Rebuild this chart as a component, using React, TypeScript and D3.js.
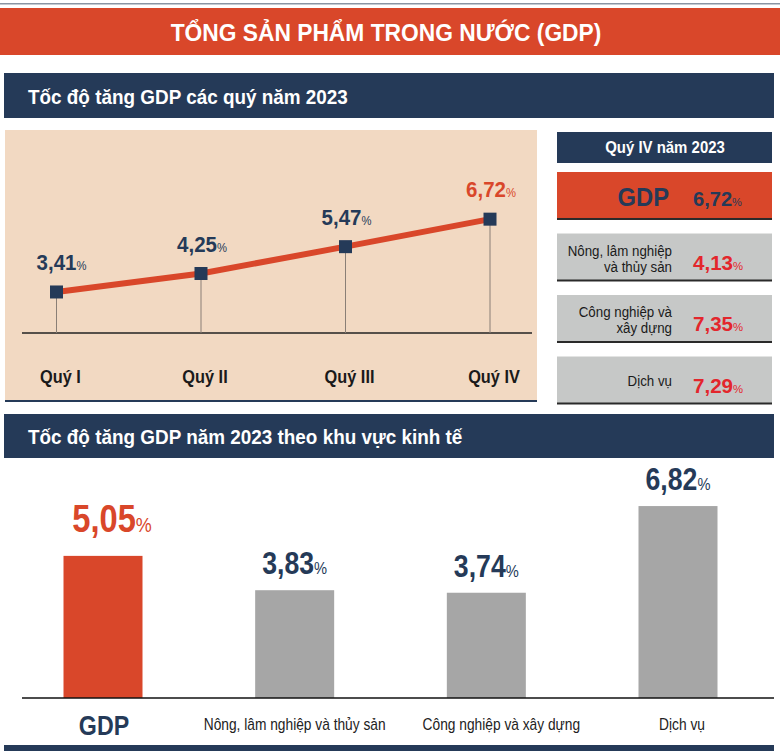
import React from "react";
import * as d3 from "d3";

const quarters = ["Quý I", "Quý II", "Quý III", "Quý IV"];
const quarterGrowth = [3.41, 4.25, 5.47, 6.72];

const q4Labels = [["GDP"], ["Nông, lâm nghiệp", "và thủy sản"], ["Công nghiệp và", "xây dựng"], ["Dịch vụ"]];
const q4Values = [6.72, 4.13, 7.35, 7.29];

const sectors = ["GDP", "Nông, lâm nghiệp và thủy sản", "Công nghiệp và xây dựng", "Dịch vụ"];
const yearGrowth = [5.05, 3.83, 3.74, 6.82];

const TITLE = "TỔNG SẢN PHẨM TRONG NƯỚC (GDP)";
const HEAD1 = "Tốc độ tăng GDP các quý năm 2023";
const HEAD2 = "Tốc độ tăng GDP năm 2023 theo khu vực kinh tế";
const Q4HEAD = "Quý IV năm 2023";

const FONT = "'Liberation Sans', Arial, sans-serif";
const RED = "#d9472a";
const NAVY = "#253a58";
const BEIGE = "#f2d9c2";
const BRIGHTRED = "#e3262c";
const GRAYBOX = "#c6c8c7";
const GRAYBAR = "#a6a6a6";
const SX = 0.86;

const fmt = (v: number) => d3.format(".2f")(v).replace(".", ",");

function T({ x, y, size, anchor = "start", bold = false, fill = "#1a1a1a", sx = SX, children }: any) {
  return (
    <g transform={`translate(${x},${y}) scale(${sx},1)`}>
      <text x={0} y={0} textAnchor={anchor} fontFamily={FONT} fontWeight={bold ? "bold" : "normal"} fill={fill} fontSize={size}>
        {children}
      </text>
    </g>
  );
}

function Pct({ v, x, y, size, color, anchor = "middle", sx = SX }: any) {
  return (
    <T x={x} y={y} size={size} anchor={anchor} bold fill={color} sx={sx}>
      {fmt(v)}
      <tspan fontSize={size * 0.55} fontWeight="normal">%</tspan>
    </T>
  );
}

export default function App() {
  // Line chart scales
  const xq = d3.scalePoint<string>().domain(quarters).range([56.5, 490]);
  const yq = d3.scaleLinear().domain([1.5, 7.5]).range([334, 202]);
  const line = d3
    .line<number>()
    .x((_, i) => xq(quarters[i])!)
    .y((d) => yq(d));

  // Right panel
  const yb = d3.scaleBand<string>().domain(q4Labels.map((l) => l.join(" "))).range([172, 403.5]).paddingInner(0.236).paddingOuter(0);

  // Bar chart
  const xb = d3.scalePoint<string>().domain(sectors).range([103, 678]);
  const yy = d3.scaleLinear().domain([0, 7]).range([698, 501]);
  const bw = 79;

  return (
    <svg width={780} height={751} style={{ position: "absolute", left: 0, top: 0 }} fontFamily={FONT}>
      <rect x={0} y={0} width={780} height={751} fill="#ffffff" />
      <rect x={0} y={3} width={780} height={1.5} fill="#8a95a3" />
      {/* Title banner */}
      <rect x={0} y={8} width={780} height={47} fill={RED} />
      <T x={386} y={41} anchor="middle" fill="#fff" size={24} bold sx={0.95}>{TITLE}</T>

      {/* Header 1 */}
      <rect x={4} y={73} width={770} height={45} fill={NAVY} />
      <T x={28} y={104} fill="#fff" size={21} bold sx={0.9}>{HEAD1}</T>

      {/* Line chart panel */}
      <rect x={5} y={130} width={532} height={271} fill={BEIGE} />
      <rect x={5} y={400} width={532} height={2} fill={NAVY} />
      <line x1={22} x2={532} y1={333} y2={333} stroke="#222" strokeWidth={1.5} />
      {quarterGrowth.map((v, i) => (
        <line key={"d" + i} x1={xq(quarters[i])!} x2={xq(quarters[i])!} y1={yq(v)} y2={333} stroke="#8a7f76" strokeWidth={1} />
      ))}
      <path d={line(quarterGrowth)!} fill="none" stroke={RED} strokeWidth={6} />
      {quarterGrowth.map((v, i) => (
        <rect key={"m" + i} x={xq(quarters[i])! - 6.5} y={yq(v) - 6.5} width={13} height={13} fill={NAVY} />
      ))}
      {quarterGrowth.map((v, i) => (
        <Pct key={"l" + i} v={v} x={xq(quarters[i])! + (i === 0 ? 5 : 1)} y={yq(v) - 22} size={22} sx={0.93} color={i === 3 ? RED : NAVY} />
      ))}
      {quarters.map((q, i) => (
        <T key={"q" + i} x={xq(q)! + 4} y={383} anchor="middle" size={19} bold fill="#1a1a1a">{q}</T>
      ))}

      {/* Right panel */}
      <rect x={557} y={132} width={215} height={31} fill={NAVY} />
      <T x={665} y={153} anchor="middle" fill="#fff" size={17} bold sx={0.88}>{Q4HEAD}</T>
      {q4Labels.map((lbl, i) => {
        const key = lbl.join(" ");
        const top = yb(key)!;
        const h = yb.bandwidth();
        const isGdp = i === 0;
        return (
          <g key={"b" + i}>
            <rect x={557} y={top} width={215} height={h} fill={isGdp ? RED : GRAYBOX} />
            <rect x={557} y={top + h - 1} width={215} height={2} fill="#2a2a2a" />
            {isGdp ? (
              <T x={669} y={top + 34} anchor="end" size={25} bold fill={NAVY} sx={0.95}>{lbl[0]}</T>
            ) : lbl.length === 2 ? (
              <>
                <T x={672} y={top + 22} anchor="end" size={15.5}>{lbl[0]}</T>
                <T x={672} y={top + 38} anchor="end" size={15.5}>{lbl[1]}</T>
              </>
            ) : (
              <T x={672} y={top + 29} anchor="end" size={15.5}>{lbl[0]}</T>
            )}
            <Pct v={q4Values[i]} x={693} y={top + (isGdp ? 34 : 36)} size={isGdp ? 20.5 : 21} sx={0.98} color={isGdp ? NAVY : BRIGHTRED} anchor="start" />
          </g>
        );
      })}

      {/* Header 2 */}
      <rect x={4} y={414} width={770} height={44} fill={NAVY} />
      <T x={28} y={444} fill="#fff" size={21} bold sx={0.9}>{HEAD2}</T>

      {/* Bar chart */}
      {yearGrowth.map((v, i) => (
        <rect key={"bar" + i} x={xb(sectors[i])! - bw / 2} y={yy(v)} width={bw} height={698 - yy(v)} fill={i === 0 ? RED : GRAYBAR} />
      ))}
      <line x1={22} x2={774} y1={698} y2={698} stroke="#111" strokeWidth={1.5} />
      {yearGrowth.map((v, i) => (
        <Pct key={"bv" + i} v={v} x={xb(sectors[i])! + (i === 0 ? 9 : 0)} y={yy(v) - (i === 0 ? 24 : 16)} size={i === 0 ? 38 : 31} color={i === 0 ? RED : NAVY} />
      ))}
      {sectors.map((s, i) =>
        i === 0 ? (
          <T key={"s" + i} x={xb(s)! + 1} y={735} anchor="middle" size={27} bold fill={NAVY}>{s}</T>
        ) : (
          <T key={"s" + i} x={xb(s)! + [0, 0, 15, 4][i]} y={730} anchor="middle" size={16} fill="#222">{s}</T>
        )
      )}
      <rect x={4} y={745} width={770} height={6} fill={NAVY} />
    </svg>
  );
}
